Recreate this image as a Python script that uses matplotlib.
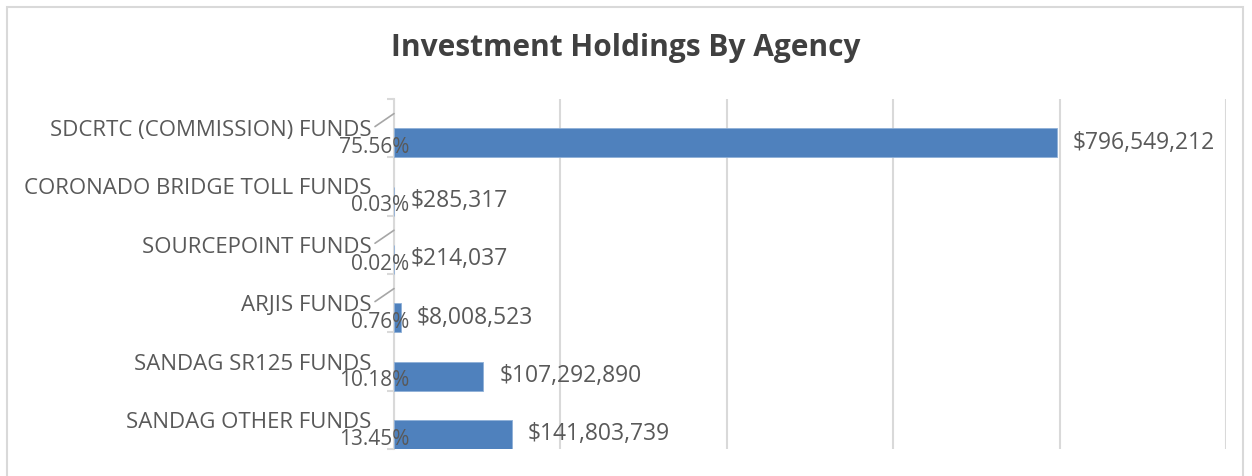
import numpy as np
import matplotlib.pyplot as plt
from matplotlib.patches import Rectangle
from matplotlib.ticker import FixedLocator

# data (top to bottom)
agencies = ["SDCRTC (COMMISSION) FUNDS", "CORONADO BRIDGE TOLL FUNDS", "SOURCEPOINT FUNDS",
            "ARJIS FUNDS", "SANDAG SR125 FUNDS", "SANDAG OTHER FUNDS"]
holdings = [796549212, 285317, 214037, 8008523, 107292890, 141803739]
shares = ["75.56%", "0.03%", "0.02%", "0.76%", "10.18%", "13.45%"]
has_leader = [True, False, True, True, False, False]
x_ticks = [0, 200e6, 400e6, 600e6, 800e6, 1000e6]

txt_col = "#595959"
grid_col = "#D9D9D9"
bar_col = "#4F81BD"
font = "Open Sans"

fig = plt.figure(figsize=(12.52, 4.76), dpi=100)
ax = fig.add_axes([394/1252, 1-449/476, (1226-394)/1252, 350/476])

pos = np.arange(len(agencies))
# visible series sits in the lower half of each category band
ax.barh(pos + 0.25, holdings, height=0.5, color=bar_col, edgecolor="#8FB0D8", linewidth=0.6, zorder=3)

ax.set_xlim(0, x_ticks[-1])
ax.set_ylim(len(agencies) - 0.5, -0.5)
ax.set_xticks(x_ticks)
ax.xaxis.grid(True, color=grid_col, linewidth=1.5)
ax.tick_params(axis="x", length=0, labelbottom=False)
ax.set_yticks(pos)
ax.set_yticklabels(agencies, fontsize=16, color=txt_col, family=font)
ax.tick_params(axis="y", which="major", length=0, pad=16)
ax.yaxis.set_minor_locator(FixedLocator(np.arange(len(agencies) + 1) - 0.5))
ax.tick_params(axis="y", which="minor", length=5, color=grid_col, width=1.5)
for s in ["top", "right", "bottom"]:
    ax.spines[s].set_visible(False)
ax.spines["left"].set_color(grid_col)
ax.spines["left"].set_linewidth(1.5)
ax.set_axisbelow(True)

for i, v in enumerate(holdings):
    ax.annotate("${:,}".format(v), (v, i + 0.25), xytext=(11.5, 0), textcoords="offset points",
                va="center", ha="left", fontsize=16.5, color=txt_col, family=font)
    ax.annotate(shares[i], (0, i + 0.33), xytext=(11, 0), textcoords="offset points",
                va="center", ha="right", fontsize=15, color=txt_col, family=font,
                annotation_clip=False)
    if has_leader[i]:
        ax.annotate("", xy=(0, i - 0.25), xytext=(-19, -13), textcoords="offset pixels",
                    xycoords="data", annotation_clip=False,
                    arrowprops=dict(arrowstyle="-", color="#A6A6A6", lw=1.2,
                                    shrinkA=0, shrinkB=0))

fig.text(0.5, 1-48/476, "Investment Holdings By Agency", ha="center", va="center",
         fontsize=21.5, fontweight="bold", color="#404040", family=font)

fig.patches.append(Rectangle((7/1252, -0.1), (1243-7)/1252, 1.1 - 7/476, transform=fig.transFigure,
                             fill=False, edgecolor=grid_col, linewidth=1.5))

fig.savefig("out.png", dpi=100, facecolor="white")
